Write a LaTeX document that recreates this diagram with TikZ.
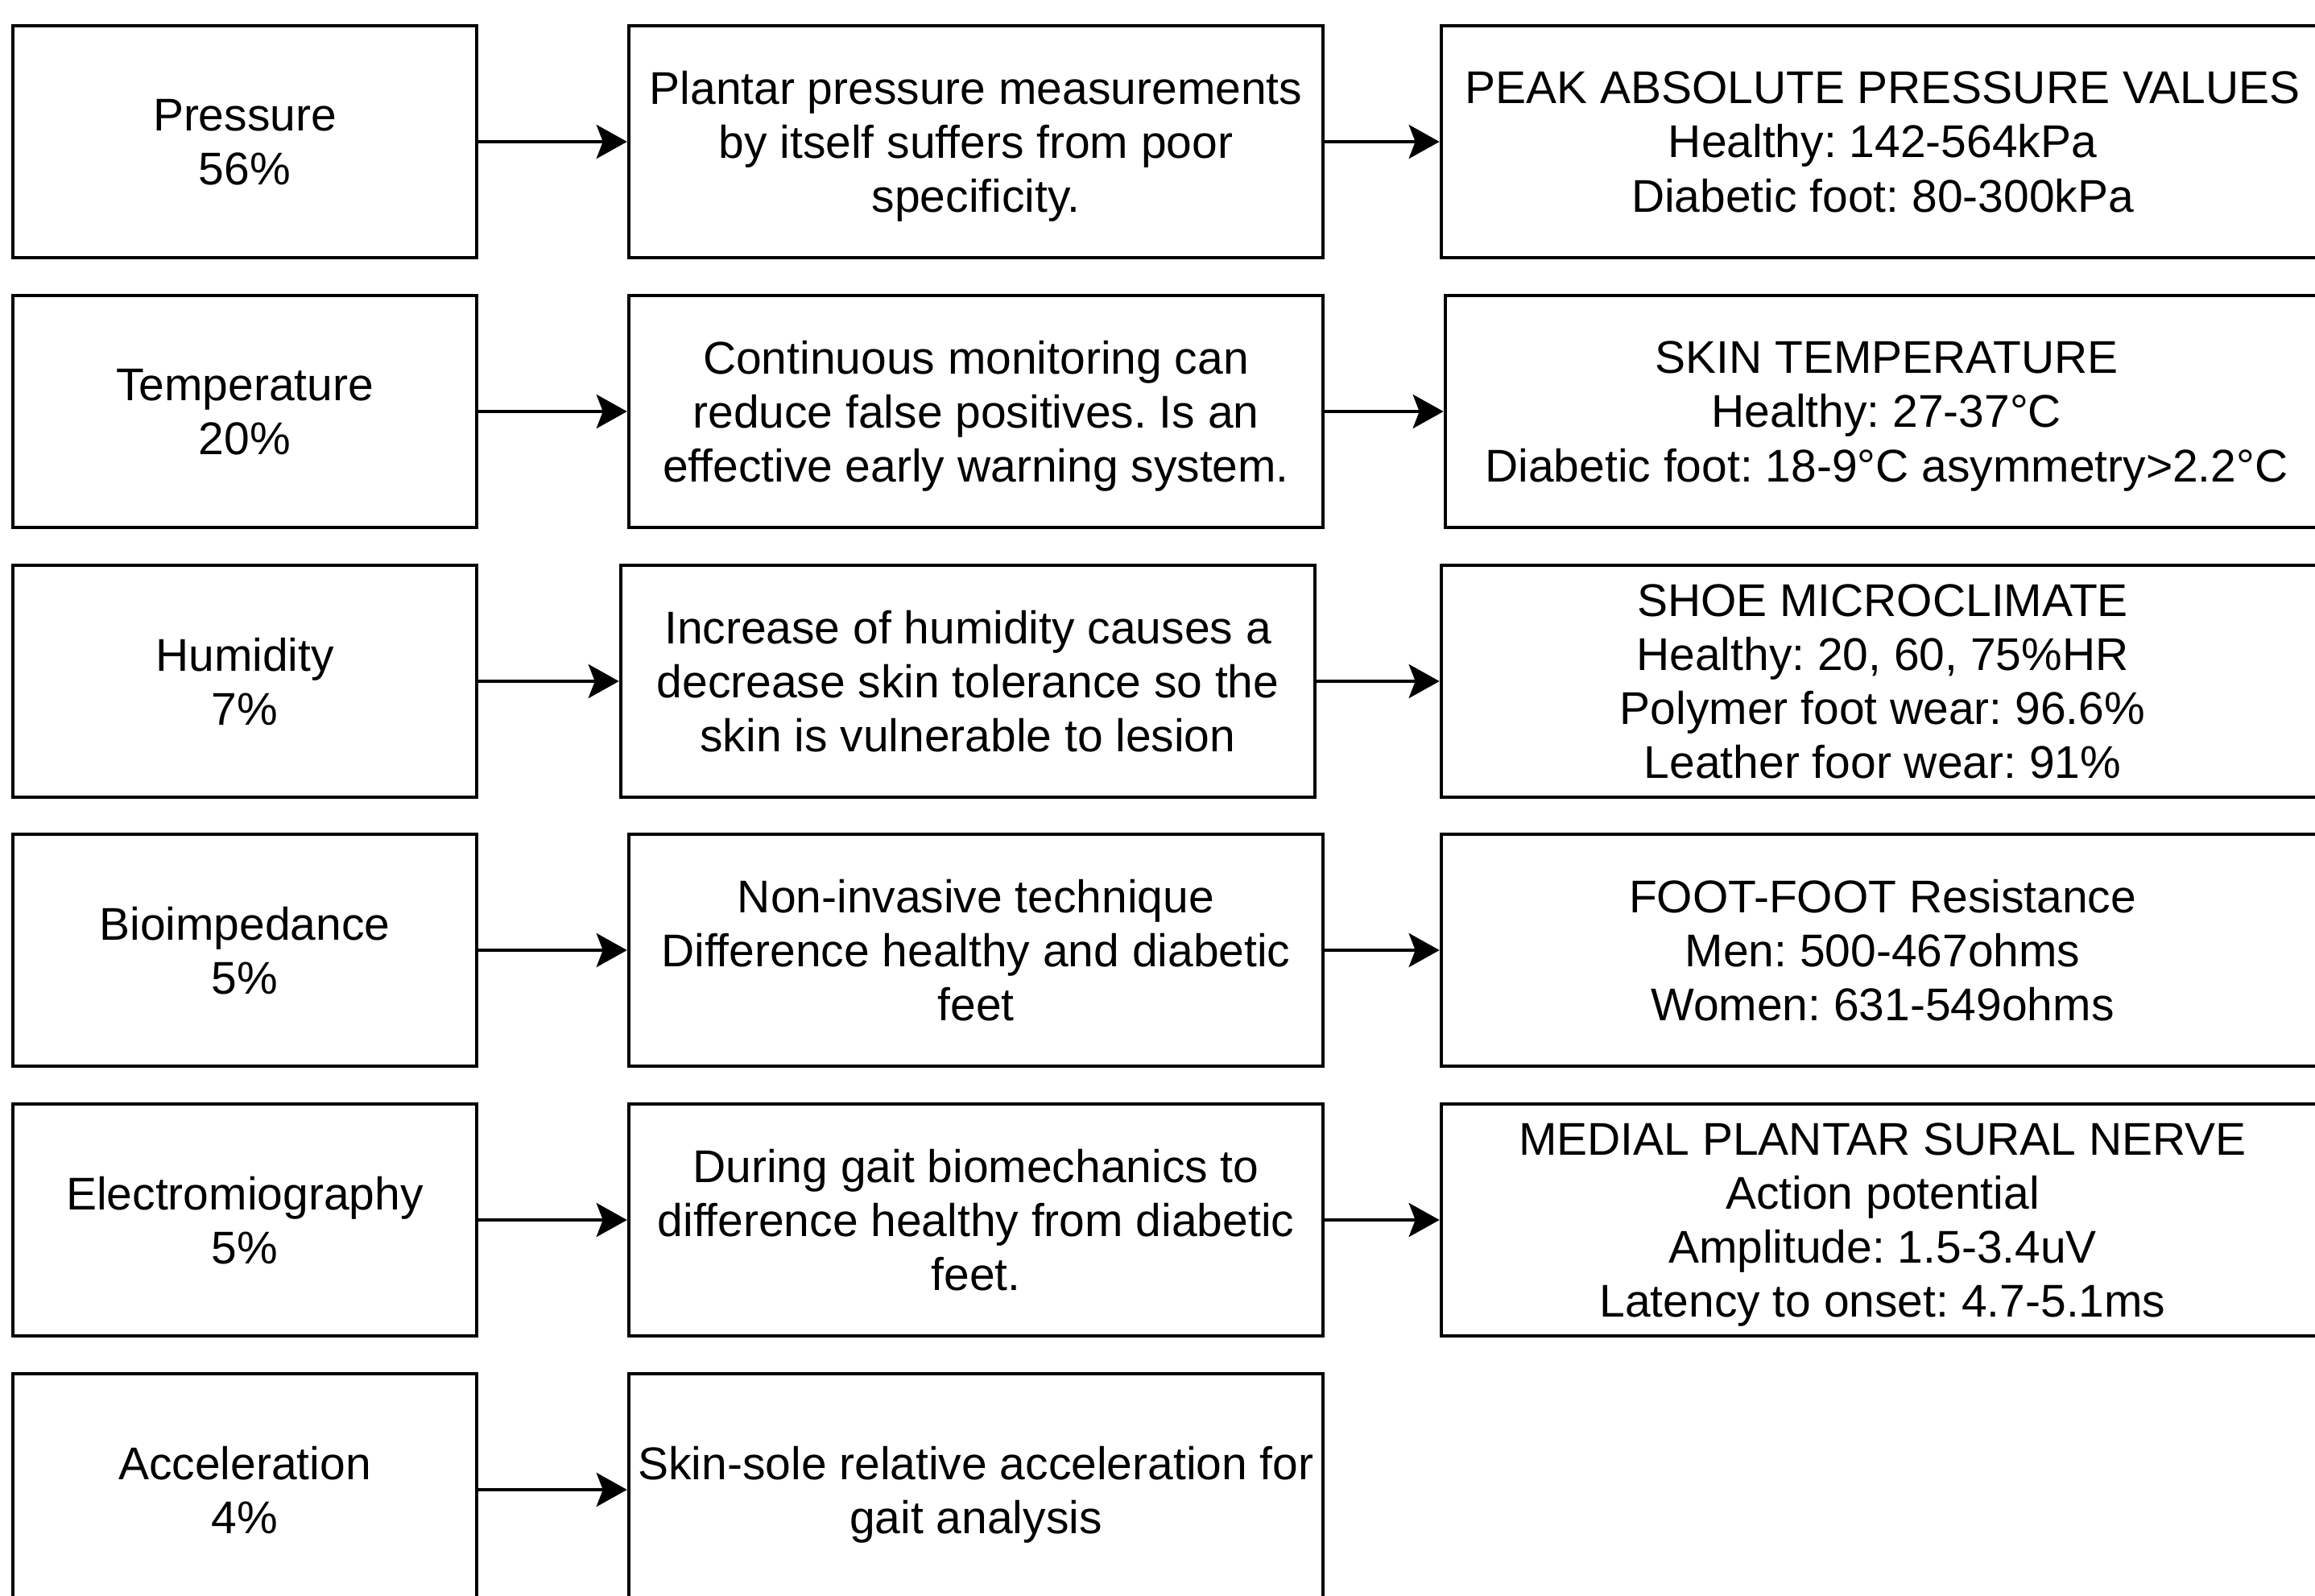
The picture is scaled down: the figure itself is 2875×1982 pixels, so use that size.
\documentclass[tikz,border=0pt]{standalone}
\usepackage{fontspec}
\setmainfont{Liberation Sans}
\usetikzlibrary{arrows.meta}
\tikzset{
  box/.style={draw=black, line width=0.04cm, rectangle, align=center, inner sep=0pt,
    minimum height=2.88cm, font=\fontsize{16.2}{19.1}\selectfont\frenchspacing, text=black,
    text depth=0pt},
  boxa/.style={box, minimum width=5.76cm},
  boxb/.style={box, minimum width=8.62cm},
  boxc/.style={box, minimum width=10.96cm},
  conn/.style={line width=0.04cm, -{Stealth[length=0.38cm, width=0.42cm, inset=0.08cm]}}
}
\begin{document}
\begin{tikzpicture}[x=0.01cm, y=-0.01cm]
\useasboundingbox (0,0) rectangle (2875,1982);
\fill[white] (0,0) rectangle (2875,1982);
\begin{scope}
\clip (0,0) rectangle (2875,1982);
% column 1
\node[boxa] (a1) at (304,176) {Pressure\\56\%};
\node[boxa] (a2) at (304,511) {Temperature\\20\%};
\node[boxa] (a3) at (304,846) {Humidity\\7\%};
\node[boxa] (a4) at (304,1180) {Bioimpedance\\5\%};
\node[boxa] (a5) at (304,1515) {Electromiography\\5\%};
\node[boxa] (a6) at (304,1850) {Acceleration\\4\%};
% column 2
\node[boxb] (b1) at (1212,176) {Plantar pressure measurements\\by itself suffers from poor\\specificity.};
\node[boxb] (b2) at (1212,511) {Continuous monitoring can\\reduce false positives. Is an\\effective early warning system.};
\node[boxb] (b3) at (1202,846) {Increase of humidity causes a\\decrease skin tolerance so the\\skin is vulnerable to lesion};
\node[boxb] (b4) at (1212,1180) {Non-invasive technique\\Difference healthy and diabetic\\feet};
\node[boxb] (b5) at (1212,1515) {During gait biomechanics to\\difference healthy from diabetic\\feet.};
\node[boxb] (b6) at (1212,1850) {Skin-sole relative acceleration for\\gait analysis};
% column 3
\node[boxc] (c1) at (2338,176) {PEAK ABSOLUTE PRESSURE VALUES\\Healthy: 142-564kPa\\Diabetic foot: 80-300kPa};
\node[boxc] (c2) at (2343,511) {SKIN TEMPERATURE\\Healthy: 27-37°C\\Diabetic foot: 18-9°C asymmetry>2.2°C};
\node[boxc] (c3) at (2338,846) {SHOE MICROCLIMATE\\Healthy: 20, 60, 75\%HR\\Polymer foot wear: 96.6\%\\Leather foor wear: 91\%};
\node[boxc] (c4) at (2338,1180) {FOOT-FOOT Resistance\\Men: 500-467ohms\\Women: 631-549ohms};
\node[boxc] (c5) at (2338,1515) {MEDIAL PLANTAR SURAL NERVE\\Action potential\\Amplitude: 1.5-3.4uV\\Latency to onset: 4.7-5.1ms};
% connectors
\foreach \i in {1,...,6} {\draw[conn] (a\i) -- (b\i);}
\foreach \i in {1,...,5} {\draw[conn] (b\i) -- (c\i);}
\end{scope}
\end{tikzpicture}
\end{document}
